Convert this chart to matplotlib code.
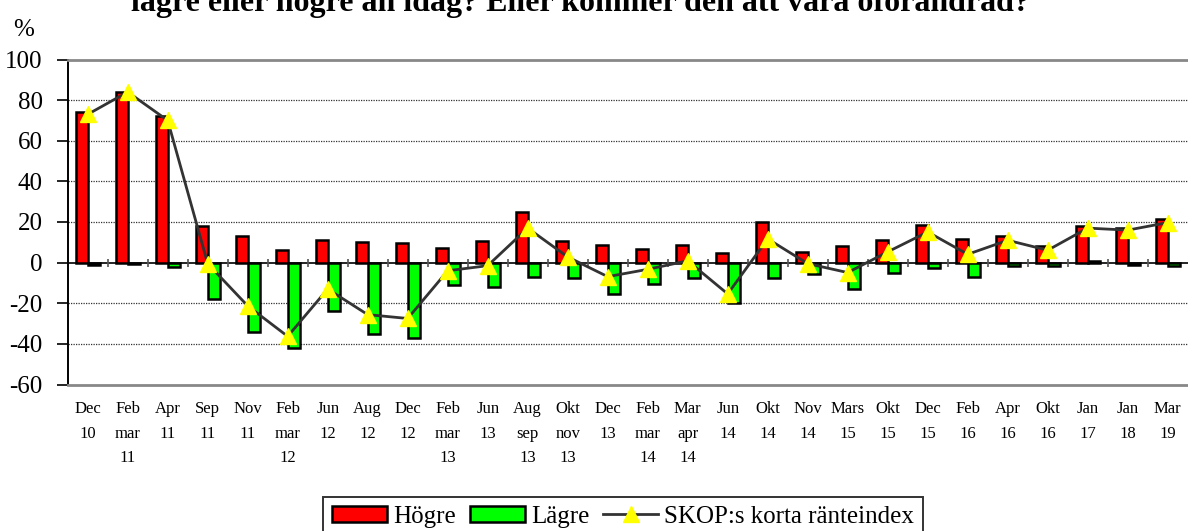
import numpy as np
import matplotlib.pyplot as plt
from matplotlib.patches import Patch
from matplotlib.lines import Line2D

plt.rcParams['font.family'] = ['Liberation Serif', 'DejaVu Serif']
plt.rcParams['axes.unicode_minus'] = False

labels = ["Dec\n10", "Feb\nmar\n11", "Apr\n11", "Sep\n11", "Nov\n11", "Feb\nmar\n12",
          "Jun\n12", "Aug\n12", "Dec\n12", "Feb\nmar\n13", "Jun\n13", "Aug\nsep\n13",
          "Okt\nnov\n13", "Dec\n13", "Feb\nmar\n14", "Mar\napr\n14", "Jun\n14", "Okt\n14",
          "Nov\n14", "Mars\n15", "Okt\n15", "Dec\n15", "Feb\n16", "Apr\n16", "Okt\n16",
          "Jan\n17", "Jan\n18", "Mar\n19"]
hogre = [74, 84, 72, 18, 13, 6, 11, 10, 9.7, 7.3, 10.7, 24.8, 10.7, 8.6, 6.8, 8.7,
         4.8, 20, 5.3, 8.1, 11, 18.3, 11.4, 13, 8.1, 17.9, 17.1, 21.5]
lagre = [-1, -0.5, -2, -17.7, -34, -42, -24, -35.3, -37, -11, -12, -7, -7.5, -15.2,
         -10.3, -7.5, -19.8, -7.8, -5.7, -12.8, -5, -2.6, -7, -1.8, -1.8, 0.8, -1.1, -1.6]
skop = [73, 84, 70, -0.5, -21.3, -36.3, -13, -25.6, -27.5, -4, -1.5, 17, 2.8, -6.9,
        -3.3, 0.9, -15.4, 11.7, -0.5, -4.9, 5.3, 15.1, 4.1, 11, 6.1, 17, 16, 19.7]

title = "lägre eller högre än idag? Eller kommer den att vara oförändrad?"

x = np.arange(len(labels))
w = 0.3

fig = plt.figure(figsize=(11.88, 5.31), dpi=100)
ax = fig.add_axes([67.7 / 1188, 1 - 384.5 / 531, 1120 / 1188, 325 / 531])

for yv in [80, 60, 40, 20, -20, -40]:
    ax.axhline(yv, color='#333333', lw=0.9, ls=(0, (1, 1)), zorder=1)

ax.bar(x - w / 2, hogre, w, color='#FF0000', edgecolor='black', lw=1.8, zorder=3)
ax.bar(x + w / 2, lagre, w, color='#00FF00', edgecolor='black', lw=1.8, zorder=3)
ax.axhline(0, color='black', lw=1.2, zorder=2)
ax.vlines(np.arange(len(labels) - 1) + 0.5, -2, 2, color='#555555', lw=1.2, zorder=2)
ax.plot(x, skop, color='#333333', lw=2, marker='^', ms=11, mfc='#FFFF00', mec='#FFFF00',
        zorder=4)

ax.set_xlim(-0.5, len(labels) - 0.5)
ax.set_ylim(-60, 100)
ax.set_yticks(np.arange(-60, 101, 20))
ax.tick_params(axis='y', labelsize=18, length=8, width=1.2, pad=10, color='black')
ax.set_xticks(x)
ax.set_xticklabels(labels)
ax.tick_params(axis='x', labelsize=12, length=0, pad=12)
for t in ax.get_xticklabels():
    t.set_linespacing(1.7)

ax.spines['left'].set_linewidth(1.4)
ax.spines['right'].set_visible(False)
for s in ['top', 'bottom']:
    ax.spines[s].set_color('#888888')
    ax.spines[s].set_linewidth(2)

fig.text(131 / 1188, 1 - 10.5 / 531, title, fontsize=23, fontweight='bold',
         ha='left', va='baseline')
fig.text(13 / 1188, 1 - 36 / 531, '%', fontsize=18, ha='left', va='baseline')

handles = [Patch(facecolor='#FF0000', edgecolor='black', lw=1.8),
           Patch(facecolor='#00FF00', edgecolor='black', lw=1.8),
           Line2D([], [], color='#333333', lw=2, marker='^', ms=11,
                  mfc='#FFFF00', mec='#FFFF00')]
leg = fig.legend(handles, ['Högre', 'Lägre', 'SKOP:s korta ränteindex'], ncol=3,
                 loc='upper center', bbox_to_anchor=(623 / 1188, 1 - 497 / 531),
                 fontsize=18, frameon=True, fancybox=False, edgecolor='black',
                 handlelength=2.2, handleheight=0.6, handletextpad=0.25,
                 columnspacing=0.55, borderpad=0.35, borderaxespad=0)
leg.get_frame().set_linewidth(1.4)

fig.savefig('out.png', dpi=100)
